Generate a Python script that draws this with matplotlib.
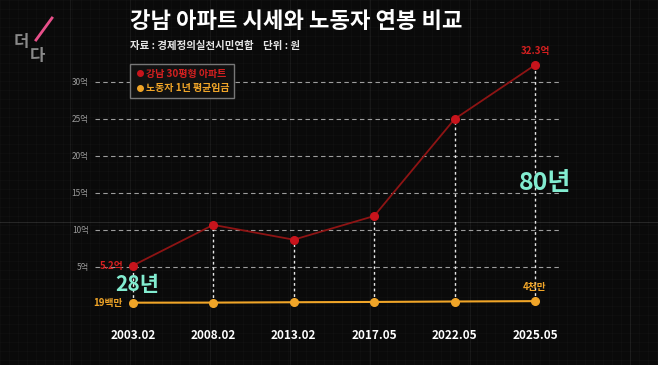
import numpy as np
import matplotlib.pyplot as plt
from matplotlib.lines import Line2D

plt.rcParams['font.family'] = ['Noto Sans CJK KR', 'DejaVu Sans']

dates = ['2003.02', '2008.02', '2013.02', '2017.05', '2022.05', '2025.05']
apt = [5.2, 10.7, 8.7, 11.9, 25.0, 32.3]      # 억
wage = [0.19, 0.2, 0.25, 0.29, 0.35, 0.4]     # 억
yticks = [5, 10, 15, 20, 25, 30]

bg = '#0a0a0a'
red_line = '#8e1414'
red = '#c8141c'
orange = '#f0a528'
teal = '#82ecd0'

fig = plt.figure(figsize=(6.58, 3.65), dpi=100, facecolor=bg)

# faint background texture
tex = fig.add_axes([0, 0, 1, 1])
tex.set_facecolor(bg)
tex.set_xlim(0, 658)
tex.set_ylim(365, 0)
tex.axis('off')
for xx in np.arange(0, 658, 9):
    tex.axvline(xx, color='#ffffff', lw=0.4, alpha=0.035)
for yy in np.arange(0, 365, 9):
    tex.axhline(yy, color='#ffffff', lw=0.4, alpha=0.035)
for xx in [70, 130, 210, 290, 370, 470, 630]:
    tex.axvline(xx, color='#ffffff', lw=0.6, alpha=0.07)
tex.axhline(222, color='#ffffff', lw=0.7, alpha=0.12)

# logo
tex.text(14, 42, '더', color='#8a8a8a', fontsize=12, fontweight='black', va='center')
tex.text(30, 56, '다', color='#8a8a8a', fontsize=12, fontweight='black', va='center')
tex.plot([36, 52], [40, 18], color='#e8508a', lw=2)

# titles
tex.text(130, 22, '강남 아파트 시세와 노동자 연봉 비교', color='white', fontsize=16,
         fontweight='black', va='center')
tex.text(130, 46, '자료 : 경제정의실천시민연합    단위 : 원', color='#e6e6e6',
         fontsize=7.5, fontweight='bold', va='center')

ax = fig.add_axes([95 / 658, 35 / 365, 465 / 658, 285 / 365])
ax.set_facecolor('none')
x = np.arange(len(dates))
ax.set_xlim(-0.47, 5.31)
ax.set_ylim(-3.5, 35)

for yv in yticks:
    ax.axhline(yv, color='#d0d0d0', lw=0.8, ls=(0, (4, 3)), alpha=0.75)
    ax.text(-0.55, yv, f'{yv}억', color='#9a9a9a', fontsize=6, ha='right', va='center')

for xi, a, w in zip(x, apt, wage):
    ax.plot([xi, xi], [w, a], color='#e8e8e8', lw=1, ls=(0, (2, 2)))

ax.plot(x, apt, color=red_line, lw=1.3, marker='o', ms=5.5, mfc=red, mec=red)
ax.plot(x, wage, color=orange, lw=1.5, marker='o', ms=5.5, mfc=orange, mec=orange)

ax.text(x[0] - 0.12, apt[0], '5.2억', color='#d42020', fontsize=7,
        fontweight='bold', ha='right', va='center')
ax.text(x[-1], apt[-1] + 1.2, '32.3억', color='#d42020', fontsize=7,
        fontweight='bold', ha='center', va='bottom')
ax.text(x[0] - 0.12, wage[0], '19백만', color=orange, fontsize=7,
        fontweight='bold', ha='right', va='center')
ax.text(x[-1], wage[-1] + 1.2, '4천만', color=orange, fontsize=7,
        fontweight='bold', ha='center', va='bottom')

ax.text(x[0] + 0.05, 2.6, '28년', color=teal, fontsize=15, fontweight='black',
        ha='center', va='center')
ax.text(x[-1] + 0.12, 16.3, '80년', color=teal, fontsize=18, fontweight='black',
        ha='center', va='center')

for xi, d in zip(x, dates):
    ax.text(xi, -4.2, d, color='white', fontsize=8.5, fontweight='bold',
            ha='center', va='center', clip_on=False)

handles = [Line2D([], [], ls='none', marker='o', ms=4, color=red),
           Line2D([], [], ls='none', marker='o', ms=4, color=orange)]
leg = fig.legend(handles, ['강남 30평형 아파트', '노동자 1년 평균임금'],
                 loc='upper left', bbox_to_anchor=(130 / 658, 1 - 64 / 365),
                 frameon=True, facecolor='#111111', edgecolor='#777777',
                 handletextpad=0.1, handlelength=1.0, borderpad=0.45, labelspacing=0.45,
                 framealpha=1, fancybox=False, borderaxespad=0,
                 prop={'weight': 'bold', 'size': 7.2})
leg.get_texts()[0].set_color('#d42020')
leg.get_texts()[1].set_color(orange)

ax.axis('off')

fig.savefig('out.png', dpi=100, facecolor=bg)
